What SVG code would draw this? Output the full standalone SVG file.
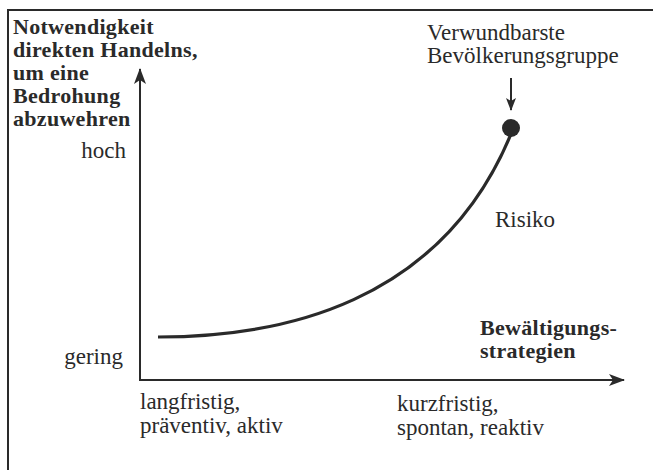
<svg xmlns="http://www.w3.org/2000/svg" width="653" height="470" viewBox="0 0 653 470">
<style>
.t{font-family:"Liberation Serif","Times New Roman",serif;font-size:23px;fill:#2a2a2a}
.b{font-family:"Liberation Serif","Times New Roman",serif;font-size:22px;font-weight:bold;letter-spacing:0.3px;fill:#2a2a2a}
.ln{stroke:#2a2a2a;fill:none}
</style>
<defs>
<marker id="ah" viewBox="0 0 16 12" refX="15" refY="6" markerWidth="16" markerHeight="12" markerUnits="userSpaceOnUse" orient="auto">
<path d="M0,0 L16,6 L0,12 L4,6 Z" fill="#2a2a2a"/>
</marker>
<marker id="ahs" viewBox="0 0 13 10" refX="12" refY="5" markerWidth="13" markerHeight="10" markerUnits="userSpaceOnUse" orient="auto">
<path d="M0,0 L13,5 L0,10 L3,5 Z" fill="#2a2a2a"/>
</marker>
</defs>
<g id="frame">
<path class="ln" d="M8,470 L8,10 L653,10" stroke-width="2"/>
</g>
<g id="connectors">
<line id="y-axis" class="ln" x1="140" y1="380" x2="140" y2="69" stroke-width="2" marker-end="url(#ah)"/>
<line id="x-axis" class="ln" x1="139" y1="380" x2="624" y2="380" stroke-width="2" marker-end="url(#ah)"/>
<line id="pointer" class="ln" x1="511" y1="78" x2="511" y2="110" stroke-width="2" marker-end="url(#ahs)"/>
<path id="risk-curve" class="ln" d="M158,337 C280,337 440,305 511,134" stroke-width="3.2"/>
</g>
<g id="node-yaxis-title">
<text class="b" x="13" y="34">Notwendigkeit</text>
<text class="b" x="13" y="57">direkten Handelns,</text>
<text class="b" x="13" y="80">um eine</text>
<text class="b" x="13" y="103">Bedrohung</text>
<text class="b" x="13" y="126">abzuwehren</text>
</g>
<g id="node-hoch"><text class="t" x="126" y="158" text-anchor="end">hoch</text></g>
<g id="node-gering"><text class="t" x="123" y="364" text-anchor="end">gering</text></g>
<g id="node-group">
<text class="t" x="427" y="40">Verwundbarste</text>
<text class="t" x="427" y="63">Bevölkerungsgruppe</text>
</g>
<g id="node-dot"><circle cx="511" cy="128" r="9" fill="#2a2a2a"/></g>
<g id="node-risiko"><text class="t" x="495" y="227">Risiko</text></g>
<g id="node-xaxis-title">
<text class="b" x="480" y="335">Bewältigungs-</text>
<text class="b" x="480" y="358">strategien</text>
</g>
<g id="node-left">
<text class="t" x="140" y="409">langfristig,</text>
<text class="t" x="140" y="433">präventiv, aktiv</text>
</g>
<g id="node-right">
<text class="t" x="397" y="411">kurzfristig,</text>
<text class="t" x="397" y="435">spontan, reaktiv</text>
</g>
</svg>
